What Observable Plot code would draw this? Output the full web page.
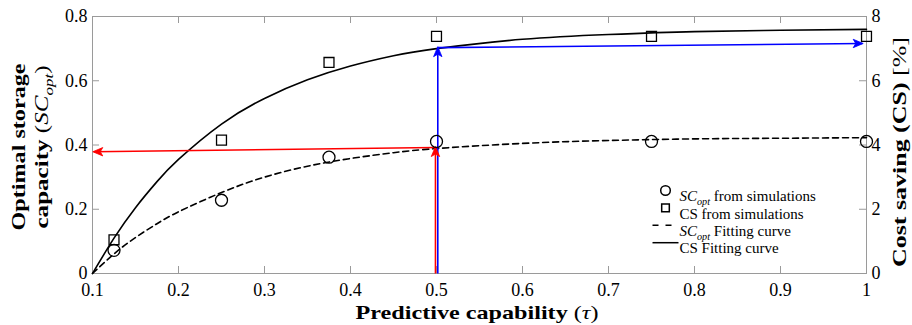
<!DOCTYPE html>
<html><head><meta charset="utf-8">
<script src="https://cdn.jsdelivr.net/npm/d3@7"></script>
<script src="https://cdn.jsdelivr.net/npm/@observablehq/plot@0.6"></script>
<style>body{margin:0;background:#fff} svg{display:block}</style>
</head><body><div id="chart"></div>
<script>
// Simulation points
const tau = [0.125, 0.25, 0.375, 0.5, 0.75, 1.0];
const scSim = [0.072, 0.228, 0.362, 0.411, 0.411, 0.411];   // SC_opt (left axis)
const csSim = [1.05, 4.15, 6.57, 7.38, 7.38, 7.38];         // CS % (right axis)
// Fitting curves
const fitTau = [0.1, 0.125, 0.15, 0.175, 0.2, 0.25, 0.3, 0.35, 0.4, 0.45, 0.5, 0.6, 0.7, 0.8, 0.9, 1.0];
const scFit = [0, 0.061, 0.112, 0.155, 0.192, 0.252, 0.300, 0.334, 0.358, 0.376, 0.389, 0.405, 0.414, 0.419, 0.421, 0.423];
const csFit = [0, 1.1, 2.05, 2.86, 3.55, 4.65, 5.45, 6.03, 6.46, 6.78, 7.0, 7.29, 7.44, 7.53, 7.57, 7.6];
// Annotation arrows: [x1, y1, x2, y2] in (tau, SC_opt) units
const redArrows = [[0.4988, 0, 0.4988, 0.392], [0.4988, 0.392, 0.1015, 0.379]];
const blueArrows = [[0.5015, 0, 0.5015, 0.703], [0.5015, 0.703, 0.995, 0.716]];
// Ticks
const xTicks = [0.1, 0.2, 0.3, 0.4, 0.5, 0.6, 0.7, 0.8, 0.9, 1];
const yTicks = [0, 0.2, 0.4, 0.6, 0.8];
const yRightTicks = [0, 2, 4, 6, 8];
// Legend
const legendLabels = ["SC_opt from simulations", "CS from simulations", "SC_opt Fitting curve", "CS Fitting curve"];

const FONT = "Liberation Serif";
const W = 912, H = 325, ML = 92, MR = 46, MT = 16, MB = 52;
const innerW = W - ML - MR, innerH = H - MT - MB;

const sim = tau.map((t, i) => ({t, sc: scSim[i], cs: csSim[i] / 10}));
const fit = fitTau.map((t, i) => ({t, sc: scFit[i], cs: csFit[i] / 10}));
const toSeg = (a, color) => ({x1: a[0], y1: a[1], x2: a[2], y2: a[3], color,
  rot: a[0] === a[2] ? (a[3] > a[1] ? 0 : 180) : (a[2] < a[0] ? -90 : 90)});
const arrows = [...redArrows.map(a => toSeg(a, "#ff0000")), ...blueArrows.map(a => toSeg(a, "#0000ff"))];

// arrowhead pointing up, tip at origin
const headSym = {draw(ctx) { ctx.moveTo(0, -1); ctx.lineTo(-4.2, 9); ctx.lineTo(0, 6.5); ctx.lineTo(4.2, 9); ctx.closePath(); }};
const dashSym = {draw(ctx) { ctx.moveTo(-13, 0); ctx.lineTo(6, 0); }};
const solidSym = {draw(ctx) { ctx.moveTo(-13, 0); ctx.lineTo(13, 0); }};
const legendSym = ["circle", "square", dashSym, solidSym];
const legendMarks = [];
legendLabels.forEach((lab, i) => {
  const dy = 174 + i * 17.4;
  legendMarks.push(Plot.dot([0], {frameAnchor: "top-left", dx: 573, dy, symbol: legendSym[i],
    r: i === 1 ? 4.3 : (i === 0 ? 4.8 : 6), stroke: "black", fill: "none", strokeWidth: 1.5,
    strokeDasharray: i === 2 ? "6,7" : null}));
  legendMarks.push(Plot.text([lab], {frameAnchor: "top-left", dx: 587, dy, text: d => d,
    textAnchor: "start", fontSize: 15, fontFamily: FONT, fill: "black"}));
});

const chart = Plot.plot({
  width: W, height: H,
  marginLeft: ML, marginRight: MR, marginTop: MT, marginBottom: MB,
  style: {fontFamily: FONT, background: "white"},
  x: {domain: [0.1, 1]},
  y: {domain: [0, 0.8]},
  marks: [
    Plot.frame({stroke: "#9a9a9a"}),
    // inward ticks (box style: all four sides)
    Plot.tickY(yTicks, {y: d => d, insetRight: innerW - 7, stroke: "#9a9a9a"}),
    Plot.tickY(yRightTicks, {y: d => d / 10, insetLeft: innerW - 7, stroke: "#9a9a9a"}),
    Plot.tickX(xTicks, {x: d => d, insetTop: innerH - 7, stroke: "#9a9a9a"}),
    Plot.tickX(xTicks, {x: d => d, insetBottom: innerH - 7, stroke: "#9a9a9a"}),
    Plot.axisY({anchor: "left", ticks: yTicks, tickSize: 0, tickPadding: 5, tickFormat: d => String(d), fontSize: 18, label: null}),
    Plot.axisY({anchor: "right", ticks: yRightTicks.map(d => d / 10), tickSize: 0, tickPadding: 5,
      tickFormat: d => String(Math.round(d * 10)), fontSize: 18, label: null}),
    Plot.axisX({ticks: xTicks, tickSize: 0, tickPadding: 10, tickFormat: d => String(d), fontSize: 18, label: null}),
    // curves
    Plot.line(fit, {x: "t", y: "cs", stroke: "black", strokeWidth: 1.6, curve: "natural"}),
    Plot.line(fit, {x: "t", y: "sc", stroke: "black", strokeWidth: 1.6, strokeDasharray: "6,4", curve: "natural"}),
    // arrows
    Plot.link(arrows, {x1: "x1", y1: "y1", x2: "x2", y2: "y2", stroke: "color", strokeWidth: 1.6}),
    Plot.dot(arrows, {x: "x2", y: "y2", symbol: headSym, rotate: "rot", fill: "color", stroke: "color", strokeWidth: 0.8, r: 5}),
    // simulation markers
    Plot.dot(sim, {x: "t", y: "sc", symbol: "circle", r: 6, stroke: "black", fill: "none", strokeWidth: 1.3}),
    Plot.dot(sim, {x: "t", y: "cs", symbol: "square", r: 5.6, stroke: "black", fill: "none", strokeWidth: 1.3}),
    ...legendMarks
  ]
});

function fillSegs(t, segs) {
  let shifted = 0;
  segs.forEach(s => {
    const ts = t.append("tspan").text(s.t);
    ts.attr("font-weight", s.b ? "bold" : "normal");
    if (s.i) ts.attr("font-style", "italic");
    if (s.sub) { ts.attr("font-size", "0.68em").attr("dy", "0.35em"); shifted = 0.68 * 0.35; }
    else if (shifted) { ts.attr("dy", (-shifted) + "em"); shifted = 0; }
  });
}
function rich(svg, match, segs) {
  d3.select(svg).selectAll("text").filter(function() { return this.textContent === match; }).each(function() {
    const t = d3.select(this);
    t.text(null);
    fillSegs(t, segs);
  });
}
const svg = chart;
rich(svg, "SC_opt from simulations", [{t: "SC", i: 1}, {t: "opt", i: 1, sub: 1}, {t: " from simulations"}]);
rich(svg, "SC_opt Fitting curve", [{t: "SC", i: 1}, {t: "opt", i: 1, sub: 1}, {t: " Fitting curve"}]);
d3.select(svg).selectAll("[aria-label='y-axis tick label'] text, [aria-label='x-axis tick label'] text").attr("fill", "black");
document.getElementById("chart").appendChild(chart);

// Axis titles, stretched to the reference text lengths
const titles = [
  {cx: 19, cy: 147, rot: -90, w: 167, segs: [{t: "Optimal storage", b: 1}]},
  {cx: 42, cy: 147, rot: -90, w: 163, segs: [{t: "capacity ", b: 1}, {t: "("}, {t: "SC", i: 1}, {t: "opt", i: 1, sub: 1}, {t: ")"}]},
  {cx: 900, cy: 152, rot: -90, w: 230, segs: [{t: "Cost saving (CS) ", b: 1}, {t: "[%]"}]},
  {cx: 477, cy: 313, rot: 0, w: 243, segs: [{t: "Predictive capability ", b: 1}, {t: "("}, {t: "τ", i: 1}, {t: ")"}]}
];
titles.forEach(o => {
  const t = d3.select(svg).append("text")
    .attr("transform", `translate(${o.cx},${o.cy}) rotate(${o.rot})`)
    .attr("text-anchor", "middle").attr("dy", "0.33em")
    .attr("font-family", FONT).attr("font-size", 19.5).attr("fill", "black");
  fillSegs(t, o.segs);
  t.attr("textLength", o.w).attr("lengthAdjust", "spacingAndGlyphs");
});
</script>
</body></html>
